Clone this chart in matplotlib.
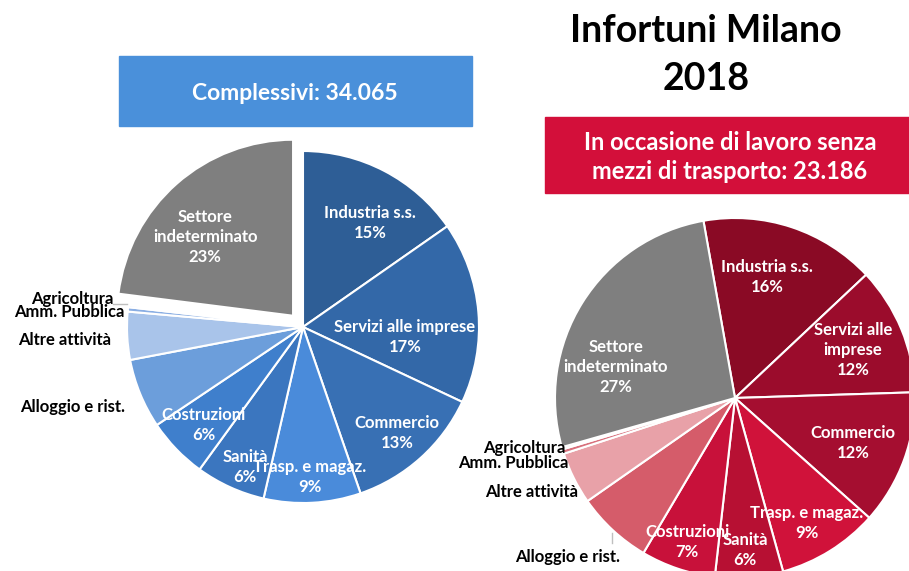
import matplotlib
matplotlib.use('Agg')
import matplotlib.pyplot as plt
from matplotlib.patches import Rectangle

plt.rcParams['font.family'] = ['Lato', 'DejaVu Sans']

W, H = 909, 571

# sectors, clockwise from 12 o'clock
sectors = ['Industria s.s.', 'Servizi alle imprese', 'Commercio', 'Trasp. e magaz.',
           'Sanità', 'Costruzioni', 'Alloggio e rist.', 'Altre attività',
           'Amm. Pubblica', 'Agricoltura', 'Settore indeterminato']

# share of accidents (%)
total_pct = [15.3, 16.7, 12.7, 8.9, 6.4, 5.6, 6.4, 4.4, 0.4, 0.2, 23.0]
work_pct = [15.8, 11.5, 12.1, 9.1, 6.1, 6.7, 6.8, 4.7, 0.4, 0.2, 26.6]

total_count = '34.065'
work_count = '23.186'

blue_colors = ['#2E5E96', '#3368A8', '#3870B4', '#4A8BDA', '#3B76BF', '#3F7FCC',
               '#6C9EDB', '#A9C4EA', '#8AAEE3', '#C6D8F2', '#7F7F7F']
red_colors = ['#8A0A25', '#9B0C2C', '#A50E30', '#D0123A', '#B71033', '#C8113A',
              '#D55C6A', '#E8A1A8', '#D8707C', '#F2C9CD', '#7F7F7F']

# label text per sector (line breaks differ between the two pies)
left_names = ['Industria s.s.', 'Servizi alle imprese', 'Commercio', 'Trasp. e magaz.',
              'Sanità', 'Costruzioni', 'Alloggio e rist.', 'Altre attività',
              'Amm. Pubblica', 'Agricoltura', 'Settore\nindeterminato']
right_names = ['Industria s.s.', 'Servizi alle\nimprese', 'Commercio', 'Trasp. e magaz.',
               'Sanità', 'Costruzioni', 'Alloggio e rist.', 'Altre attività',
               'Amm. Pubblica', 'Agricoltura', 'Settore\nindeterminato']

# which sectors carry a percentage inside the pie
inside = [True, True, True, True, True, True, False, False, False, False, True]

# label anchor points in pixels (x, y from top)
left_pos = [(370, 223), (405, 337), (397, 433), (310, 477), (245, 467), (204, 425),
            (73, 407), (65, 340), (69, 312), (72, 299), (205, 237)]
right_pos = [(767, 277), (853, 350), (853, 443), (807, 523), (745, 550), (687, 542),
             (568, 557), (532, 492), (513, 463), (524, 448), (616, 367)]


def draw_pie(ax, values, colors, names, positions, center, radius, start, explode):
    cx, cy = center
    ax.pie(values, colors=colors, startangle=start, counterclock=False,
           radius=radius, center=(cx, H - cy), explode=explode,
           wedgeprops=dict(edgecolor='white', linewidth=1.5))
    for v, name, inner, (x, y) in zip(values, names, inside, positions):
        if inner:
            ax.text(x, H - y, f'{name}\n{round(v)}%', color='white', fontsize=12,
                    fontweight='bold', ha='center', va='center', linespacing=1.3)
        else:
            ax.text(x, H - y, name, color='black', fontsize=12,
                    fontweight='bold', ha='center', va='center')


fig = plt.figure(figsize=(W / 100, H / 100), dpi=100)
ax = fig.add_axes([0, 0, 1, 1])

draw_pie(ax, total_pct, blue_colors, left_names, left_pos,
         center=(303, 327), radius=176, start=90, explode=[0] * 10 + [15])
draw_pie(ax, work_pct, red_colors, right_names, right_pos,
         center=(735, 398), radius=180, start=100.1, explode=None)

# leader lines for the small outer labels
ax.plot([113, 127], [H - 304, H - 304], color='#BFBFBF', lw=1)
ax.plot([612, 612], [H - 533, H - 543], color='#BFBFBF', lw=1)

# header boxes
ax.add_patch(Rectangle((119, H - 126), 353, 70, color='#4A90DA', zorder=3))
ax.text(295, H - 93, f'Complessivi: {total_count}', color='white', fontsize=16.5,
        fontweight='bold', ha='center', va='center', zorder=4)
ax.add_patch(Rectangle((545, H - 193), 370, 76, color='#D30F3A', zorder=3))
ax.text(730, H - 157, f'In occasione di lavoro senza\nmezzi di trasporto: {work_count}',
        color='white', fontsize=17, fontweight='bold', ha='center', va='center',
        linespacing=1.3, zorder=4)

ax.text(706, H - 31, 'Infortuni Milano', fontsize=27, fontweight='bold',
        ha='center', va='center')
ax.text(706, H - 79, '2018', fontsize=27, fontweight='bold', ha='center', va='center')

ax.set_xlim(0, W)
ax.set_ylim(0, H)
ax.set_aspect('equal')
ax.axis('off')

fig.savefig('out.png', dpi=100)
